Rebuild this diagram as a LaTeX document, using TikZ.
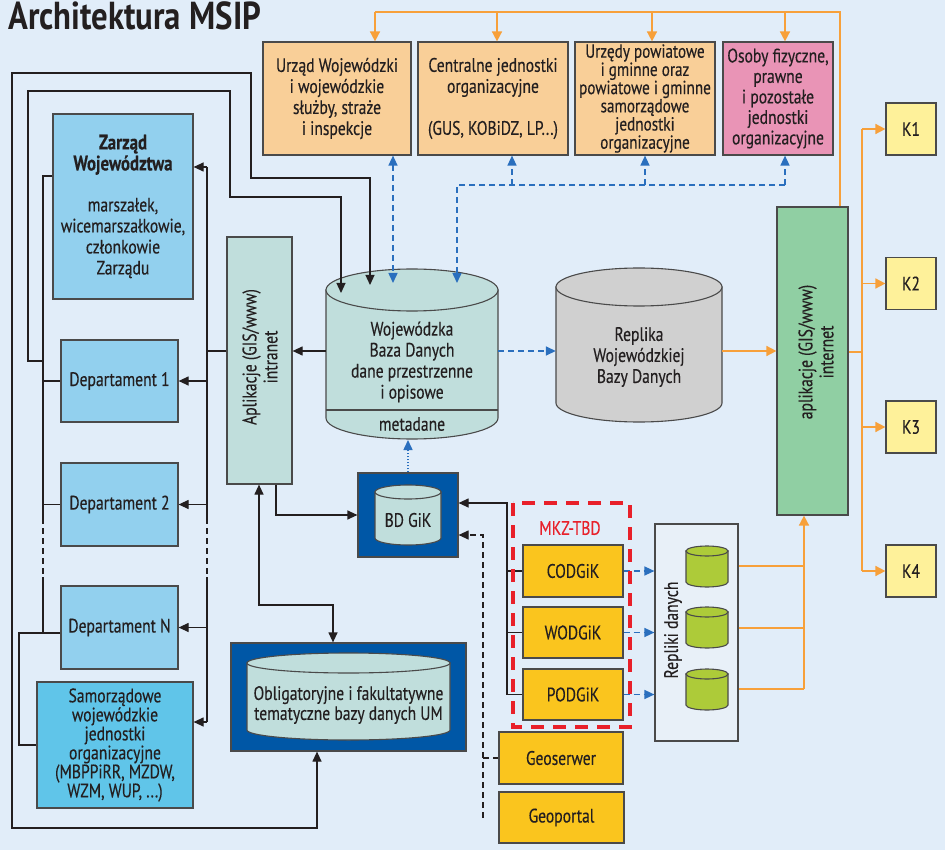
\documentclass[tikz,border=0pt]{standalone}
\usepackage{fontspec}
\setmainfont{PT Sans}[FakeStretch=0.8,FakeBold=0.3]
\newfontfamily\titlefont{PT Sans Bold}[FakeStretch=0.84]
\usetikzlibrary{arrows.meta}
\definecolor{bgc}{HTML}{E1EDF9}
\definecolor{orbox}{HTML}{F9CF98}
\definecolor{pinkbox}{HTML}{E994B6}
\definecolor{kbox}{HTML}{FEF19A}
\definecolor{greenbox}{HTML}{90CFA3}
\definecolor{tealbox}{HTML}{C0DEDC}
\definecolor{skybox}{HTML}{92D0EE}
\definecolor{cyanbox}{HTML}{60C5E9}
\definecolor{greyc}{HTML}{D0D0D0}
\definecolor{navy}{HTML}{0057A6}
\definecolor{goldbox}{HTML}{FAC51E}
\definecolor{limec}{HTML}{ADCB39}
\definecolor{orline}{HTML}{F7A03A}
\definecolor{bline}{HTML}{2A6FBE}
\definecolor{redd}{HTML}{E8202A}
\definecolor{edge}{HTML}{4A4A4A}
\definecolor{ink}{HTML}{231F20}
\definecolor{rbfill}{HTML}{E8F0F8}
\newcommand\drawcyl[6]{%
  \filldraw[fill=#6, draw=edge, line width=1.1pt] (#1-#2,#3) -- (#1-#2,#4) arc[start angle=180,end angle=0,x radius=#2,y radius=#5] -- (#1+#2,#3) -- cycle;
  \filldraw[fill=#6, draw=edge, line width=1.1pt] (#1,#3) ellipse[x radius=#2,y radius=#5];
}
\begin{document}
\begin{tikzpicture}[x=1pt,y=-1pt,
  every node/.style={font=\fontsize{19.5}{21}\selectfont, text=ink},
  box/.style={draw=edge, line width=1.2pt, inner sep=1pt, align=center},
  ghost/.style={inner sep=0pt, draw=none},
  ln/.style={draw=ink, line width=1.2pt},
  dsh/.style={dash pattern=on 6pt off 4pt},
  oln/.style={draw=orline, line width=1.6pt},
  bln/.style={draw=bline, line width=1.5pt, dash pattern=on 6pt off 4pt},
  dln/.style={draw=bline, line width=1.5pt, dash pattern=on 1.5pt off 1.5pt},
  tk/.style={-{Triangle[length=10pt,width=9pt]}},
  tkk/.style={{Triangle[length=10pt,width=9pt]}-{Triangle[length=10pt,width=9pt]}},
  otk/.style={-{Triangle[length=10pt,width=10pt]}}
]
\useasboundingbox (0,0) rectangle (945,850);
\fill[bgc] (0,0) rectangle (945,850);
\node[anchor=base west, font=\fontsize{39}{39}\titlefont, inner sep=0pt] (title) at (8,30) {Architektura MSIP};

% top boxes
\node[box, fill=orbox, minimum width=148pt, minimum height=113pt] (b1) at (337,98.5) {Urząd Wojewódzki\\i wojewódzkie\\służby, straże\\i inspekcje};
\node[box, fill=orbox, minimum width=150pt, minimum height=113pt] (b2) at (493,98.5) {Centralne jednostki\\organizacyjne\\[21pt](GUS, KOBiDZ, LP...)};
\node[box, fill=orbox, minimum width=140pt, minimum height=113pt, font=\fontsize{19}{18.2}\selectfont] (b3) at (645,98.5) {Urzędy powiatowe\\i gminne oraz\\powiatowe i gminne\\samorządowe\\jednostki\\organizacyjne};
\node[box, fill=pinkbox, minimum width=110pt, minimum height=113pt, font=\fontsize{19.5}{20.5}\selectfont] (b4) at (778,98.5) {Osoby fizyczne,\\prawne\\i pozostałe\\jednostki\\organizacyjne};

% K boxes
\foreach \k/\y in {K1/129,K2/283.5,K3/427,K4/571}
  \node[box, fill=kbox, minimum width=50pt, minimum height=52pt] (\k) at (911,\y) {\k};

% green app box
\node[box, fill=greenbox, minimum width=71pt, minimum height=308pt] (green) at (812.5,361) {};
\node[rotate=90, align=center] (greent) at (816,352) {aplikacje (GIS/www)\\internet};

% intranet box
\node[box, fill=tealbox, minimum width=65pt, minimum height=247pt] (intr) at (259.5,360.5) {};
\node[rotate=90, align=center] (intrt) at (260,357) {Aplikacje (GIS/www)\\intranet};

% left boxes
\node[box, fill=skybox, minimum width=140pt, minimum height=185pt] (zar) at (123,206.5) {{\fontsize{21}{21}\selectfont\bfseries Zarząd}\\{\fontsize{21}{21}\selectfont\bfseries Województwa}\\[20pt]marszałek,\\wicemarszałkowie,\\członkowie\\Zarządu};
\node[box, fill=skybox, minimum width=117pt, minimum height=82pt] (dep1) at (119.5,381) {Departament 1};
\node[box, fill=skybox, minimum width=117pt, minimum height=83pt] (dep2) at (119.5,504.5) {Departament 2};
\node[box, fill=skybox, minimum width=117pt, minimum height=83pt] (depn) at (119.5,627.5) {Departament N};
\node[box, fill=cyanbox, minimum width=156pt, minimum height=126pt, font=\fontsize{19.5}{19}\selectfont] (samo) at (115,745) {Samorządowe\\wojewódzkie\\jednostki\\organizacyjne\\(MBPPiRR, MZDW,\\WZM, WUP, ...)};

% main database cylinder
\drawcyl{412}{86}{290}{418}{21}{tealbox}
\draw[edge, line width=1.1pt] (326,410) -- (498,410);
\node[ghost, minimum width=172pt, minimum height=164pt] (wbd) at (412,351) {};
\node[align=center] (wbdt) at (412,362) {Wojewódzka\\Baza Danych\\dane przestrzenne\\i opisowe};
\node (meta) at (412,424) {metadane};

% replika cylinder
\drawcyl{639}{83}{287}{403}{19}{greyc}
\node[ghost, minimum width=166pt, minimum height=166pt] (rep) at (639,351) {};
\node[align=center] (rept) at (639,357) {Replika\\Wojewódzkiej\\Bazy Danych};

% BD GiK
\node[box, fill=navy, minimum width=100pt, minimum height=84pt] (bdgik) at (408,515) {};
\drawcyl{408}{33}{492}{538}{7}{tealbox}
\node (bdgikt) at (408,520) {BD GiK};

% Obligatoryjne
\node[box, fill=navy, minimum width=235pt, minimum height=108pt] (oblig) at (348.5,697) {};
\drawcyl{348.5}{101.5}{663}{730}{10}{tealbox}
\node[align=center, font=\fontsize{19.5}{20}\selectfont] (obligt) at (348.5,705) {Obligatoryjne i fakultatywne\\tematyczne bazy danych UM};

% ODGiK boxes
\node[box, fill=goldbox, minimum width=100pt, minimum height=52pt] (cod) at (573,571) {CODGiK};
\node[box, fill=goldbox, minimum width=100pt, minimum height=51pt] (wod) at (573,632.5) {WODGiK};
\node[box, fill=goldbox, minimum width=100pt, minimum height=51pt] (pod) at (573,694.5) {PODGiK};
\node[box, fill=goldbox, minimum width=124pt, minimum height=52pt] (geos) at (561,758) {Geoserwer};
\node[box, fill=goldbox, minimum width=125pt, minimum height=51pt] (geop) at (561.5,817.5) {Geoportal};

% replica box
\node[box, fill=rbfill, minimum width=83pt, minimum height=217pt] (rbox) at (696.5,632.5) {};
\node[rotate=90] (rboxt) at (673,630) {Repliki danych};
\drawcyl{707}{21}{551}{582}{5}{limec}
\drawcyl{707}{21}{612}{643}{5}{limec}
\drawcyl{707}{21}{674}{705}{5}{limec}
\node[ghost] (c1) at (707,566) {};
\node[ghost] (c2) at (707,628) {};
\node[ghost] (c3) at (707,689) {};

% ---- black connectors: intranet bus
\coordinate (ib) at (207,351);
\coordinate (it) at (207,167);
\coordinate (ibot) at (207,722);
\coordinate (id1) at (207,518);
\coordinate (id2) at (207,577);
\draw[ln] (it) -- (id1);
\draw[ln,dsh] (id1) -- (id2);
\draw[ln] (id2) -- (ibot);
\draw[ln] (ib -| intr.west) -- (ib);
\draw[ln,tk] (it) -- (it -| zar.east);
\draw[ln,tk] (ib |- dep1.east) -- (dep1.east);
\draw[ln,tk] (ib |- dep2.east) -- (dep2.east);
\draw[ln,tk] (ib |- depn.east) -- (depn.east);
\draw[ln,tk] (ibot) -- (ibot -| samo.east);

% left bus
\coordinate (lt) at (43,176);
\coordinate (ld1) at (43,518);
\coordinate (ld2) at (43,577);
\coordinate (lnn) at (43,633);
\coordinate (ll) at (43,361);
\coordinate (ls) at (19,633);
\draw[ln] (lt -| zar.west) -- (lt) -- (ld1);
\draw[ln,dsh] (ld1) -- (ld2);
\draw[ln] (ld2) -- (lnn);
\draw[ln] (lt |- dep1.west) -- (dep1.west);
\draw[ln] (lt |- dep2.west) -- (dep2.west);
\draw[ln] (ls -| depn.west) -- (ls) |- (samo.west);

% loops into the database
\coordinate (w1) at (341,293);
\draw[ln,tk] (ll) -- (28,361) -- (28,91) -- (230,91) -- (230,197) -- (341,197) -- (w1);
\coordinate (w2) at (370,285);
\coordinate (ob) at (317,828);
\draw[ln,tkk] (ob |- oblig.south) -- (ob) -- (12,828) -- (12,73) -- (251,73) -- (251,178) -- (370,178) -- (w2);

% intranet links
\coordinate (iv) at (259,605);
\coordinate (iv2) at (333,605);
\draw[ln,tkk] (iv |- intr.south) -- (iv) -- (iv2) -- (iv2 |- oblig.north);
\coordinate (ig) at (276,515);
\draw[ln,tk] (ig |- intr.south) -- (ig) -- (bdgik.west);
\draw[ln,tk] (wbd.west) -- (wbd.west -| intr.east);

% ODGiK to BD GiK
\coordinate (cb) at (507,503);
\draw[ln,tk] (cb |- pod.west) -- (cb) -- (cb -| bdgik.east);
\draw[ln] (cb |- cod.west) -- (cod.west);
\draw[ln] (cb |- wod.west) -- (wod.west);
\draw[ln] (cb |- pod.west) -- (pod.west);
\coordinate (gb) at (483,535);
\draw[ln,dsh,tk] (gb |- geop.west) -- (gb) -- (gb -| bdgik.east);
\draw[ln,dsh] (gb |- geos.west) -- (geos.west);

% ---- blue dashed
\draw[bln,tk] (wbd.east) -- (wbd.east -| rep.west);
\coordinate (bx1) at (393,283);
\draw[bln,tkk] (bx1 |- b1.south) -- (bx1);
\coordinate (bh1) at (457,185);
\coordinate (bv1) at (457,283);
\coordinate (bx2) at (512,185);
\coordinate (bx3) at (645,185);
\coordinate (bx4) at (785,185);
\draw[bln,tk] (bx4) -- (bh1) -- (bv1);
\draw[bln,tk] (bx2) -- (bx2 |- b2.south);
\draw[bln,tk] (bx3) -- (bx3 |- b3.south);
\draw[bln,tk] (bx4) -- (bx4 |- b4.south);
\coordinate (wb) at (409,440);
\draw[dln,tk] (bdgik.north) -- (bdgik.north |- wb);
\draw[bln,tk] (cod.east) -- (cod.east -| rbox.west);
\draw[bln,tk] (wod.east) -- (wod.east -| rbox.west);
\draw[bln,tk] (pod.east) -- (pod.east -| rbox.west);

% ---- orange
\coordinate (oTR) at (840,12);
\coordinate (o1) at (375,12);
\coordinate (o2) at (497,12);
\coordinate (o3) at (652,12);
\coordinate (o4) at (785,12);
\draw[oln] (oTR |- green.north) -- (oTR) -- (o1);
\draw[oln,otk] (o1) -- (o1 |- b1.north);
\draw[oln,otk] (o2) -- (o2 |- b2.north);
\draw[oln,otk] (o3) -- (o3 |- b3.north);
\draw[oln,otk] (o4) -- (o4 |- b4.north);
\coordinate (kb) at (862,352);
\draw[oln] (kb -| green.east) -- (kb);
\draw[oln] (kb |- K1.west) -- (kb |- K4.west);
\foreach \k in {K1,K2,K3,K4} \draw[oln,otk] (kb |- \k.west) -- (\k.west);
\draw[oln,otk] (rep.east) -- (rep.east -| green.west);
\coordinate (rv) at (804,560);
\draw[oln] (rbox.east |- c1) -- (rv |- c1);
\draw[oln] (rbox.east |- c2) -- (rv |- c2);
\draw[oln] (rbox.east |- c3) -- (rv |- c3);
\draw[oln,otk] (rv |- c3) -- (rv |- green.south);

% MKZ-TBD red frame
\draw[redd, line width=4pt, dash pattern=on 13pt off 9pt] (513,503) rectangle (630,727);
\node[text=redd] (mkz) at (570,528) {MKZ-TBD};
\end{tikzpicture}
\end{document}
